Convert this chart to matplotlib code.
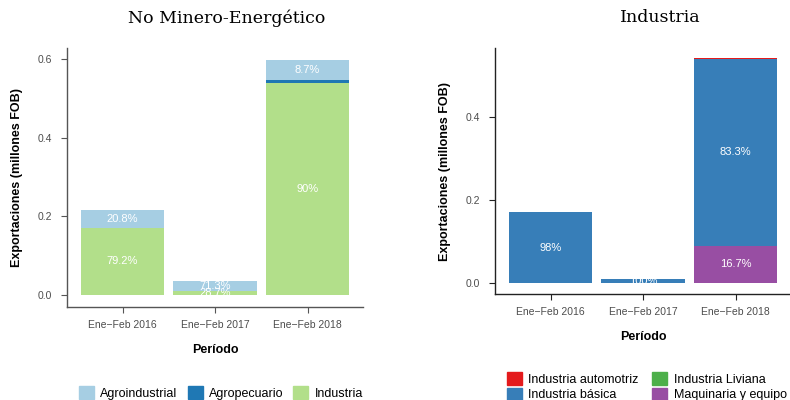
import numpy as np
import matplotlib.pyplot as plt
from matplotlib.patches import Patch

periodos = ["Ene\u2212Feb 2016", "Ene\u2212Feb 2017", "Ene\u2212Feb 2018"]

# No Minero-Energético (millones FOB)
nme_series = ["Agroindustrial", "Agropecuario", "Industria"]
agroindustrial = [0.045, 0.0255, 0.052]
agropecuario = [0.0, 0.0006, 0.0078]
industria = [0.1715, 0.0096, 0.539]
nme_labels = [["20.8%", "71.3%", "8.7%"], ["", "", ""], ["79.2%", "28.7%", "90%"]]
nme_colors = ["#a6cee3", "#1f78b4", "#b2df8a"]

# Industria (millones FOB)
ind_series = ["Industria automotriz", "Industria básica", "Industria Liviana", "Maquinaria y equipo"]
automotriz = [0.001, 0.0008, 0.0007]
basica = [0.1705, 0.0098, 0.451]
liviana = [0.0, 0.0, 0.0]
maquinaria = [0.0005, 0.0, 0.0905]
ind_labels = [["", "", ""], ["98%", "100%", "83.3%"], ["", "", ""], ["", "", "16.7%"]]
ind_colors = ["#e41a1c", "#377eb8", "#4daf4a", "#984ea3"]

SANS = ["Liberation Sans", "DejaVu Sans"]
GRAY = "#4d4d4d"

fig = plt.figure(figsize=(7.9, 4.0), dpi=100)


def stacked(ax, series, labels, colors, ylim, ticks, spine_col):
    # ggplot order: first level on top, so stack from the last one
    x = np.arange(len(periodos))
    bottom = np.zeros(len(periodos))
    for vals, labs, col in reversed(list(zip(series, labels, colors))):
        vals = np.array(vals)
        ax.bar(x, vals, width=0.9, bottom=bottom, color=col, linewidth=0)
        for i, lab in enumerate(labs):
            if lab:
                ax.text(x[i], bottom[i] + vals[i] / 2, lab, ha="center", va="center",
                        color="white", fontsize=8, family=SANS)
        bottom += vals
    ax.set_xlim(-0.6, 2.6)
    ax.set_ylim(*ylim)
    ax.set_xticks(x)
    ax.set_xticklabels(periodos, family=SANS, fontsize=7.5, color=GRAY)
    ax.set_yticks(ticks)
    ax.set_yticklabels([f"{t:.1f}" for t in ticks], family=SANS, fontsize=7.5, color=GRAY)
    for s in ["top", "right"]:
        ax.spines[s].set_visible(False)
    for s in ["left", "bottom"]:
        ax.spines[s].set_color(spine_col)
        ax.spines[s].set_linewidth(1.0)
    ax.tick_params(length=4.5, width=0.8, color=spine_col)
    ax.tick_params(axis="x", pad=5)
    ax.tick_params(axis="y", pad=6)
    ax.set_xlabel("Período", fontsize=9, fontweight="bold", family=SANS, labelpad=10)
    ax.set_ylabel("Exportaciones (millones FOB)", fontsize=9, fontweight="bold",
                  family=SANS, labelpad=11)


ax1 = fig.add_axes([67 / 790, 1 - 306.7 / 400, 296 / 790, (306.7 - 48) / 400])
stacked(ax1, [agroindustrial, agropecuario, industria], nme_labels, nme_colors,
        (-0.0299, 0.6286), [0.0, 0.2, 0.4, 0.6], "#555555")

ax2 = fig.add_axes([495 / 790, 1 - 294.3 / 400, 296 / 790, (294.3 - 48) / 400])
stacked(ax2, [automotriz, basica, liviana, maquinaria], ind_labels, ind_colors,
        (-0.0266, 0.5668), [0.0, 0.2, 0.4], "#222222")

fig.text(227 / 790, 1 - 18 / 400, "No Minero-Energético", ha="center", va="center",
         fontsize=12.5, family="DejaVu Serif")
fig.text(660 / 790, 1 - 18 / 400, "Industria", ha="center", va="center",
         fontsize=12.5, family="DejaVu Serif")

h1 = [Patch(color=c, label=n) for c, n in zip(nme_colors, nme_series)]
fig.legend(handles=h1, ncol=3, loc="center", bbox_to_anchor=(221 / 790, 1 - 393 / 400),
           frameon=False, prop={"family": SANS, "size": 9}, handlelength=1.2,
           handleheight=1.2, handletextpad=0.5, columnspacing=0.8, borderpad=0)

h2 = [Patch(color=c, label=n) for c, n in zip(ind_colors, ind_series)]
fig.legend(handles=h2, ncol=2, loc="upper left", bbox_to_anchor=(507 / 790, 1 - 372 / 400),
           frameon=False, prop={"family": SANS, "size": 9}, handlelength=1.2,
           handleheight=1.2, handletextpad=0.5, columnspacing=1.1, labelspacing=0.15,
           borderpad=0, borderaxespad=0)

fig.savefig("out.png", dpi=100)
